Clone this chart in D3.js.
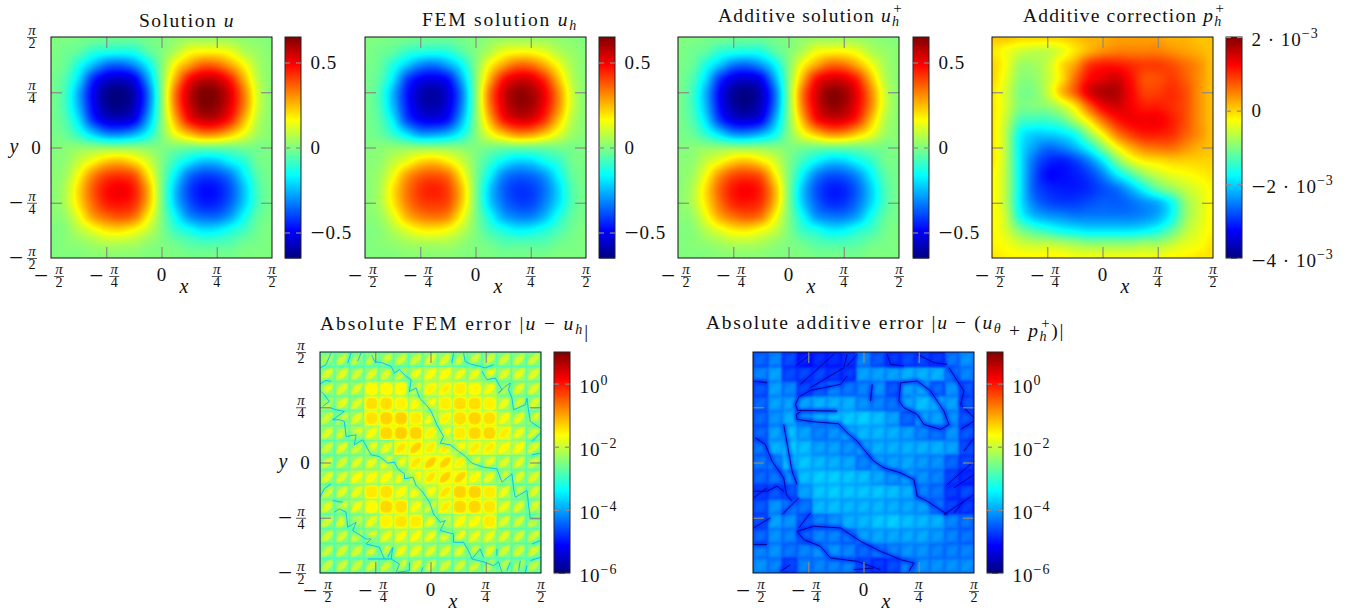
<!DOCTYPE html>
<html><head><meta charset="utf-8">
<script src="https://cdn.jsdelivr.net/npm/d3@7"></script>
<style>html,body{margin:0;padding:0;background:#fff}svg{display:block}text{font-family:"Liberation Serif",serif;fill:#111}</style>
</head><body><div id="chart"></div>
<script>
const PI = Math.PI;
// ---------- axis data ----------
const axisTicks = [-PI/2, -PI/4, 0, PI/4, PI/2];
const tickSigns = ["−", "−", "", "", ""];
const tickDenominators = [2, 4, 0, 4, 2];
const jetStops = [0, 1/8, 3/8, 5/8, 7/8, 1];
const jetColors = ["#000080", "#0000ff", "#00ffff", "#ffff00", "#ff0000", "#800000"];

// ---------- values: hundredths, nodes top to bottom ----------
const solutionU = [
[0,0,-1,-1,-2,-2,-2,-1,0,2,3,3,3,3,2,1,0],
[0,-2,-4,-10,-12,-13,-12,-5,0,6,14,16,16,13,6,3,1],
[-1,-3,-13,-24,-34,-36,-30,-17,0,17,28,36,35,27,16,5,1],
[-1,-6,-20,-42,-53,-55,-50,-28,0,26,47,55,54,44,25,7,1],
[-1,-8,-27,-49,-62,-65,-58,-36,0,34,55,65,63,52,32,10,1],
[-1,-8,-26,-48,-61,-64,-57,-35,0,33,54,64,62,51,32,10,1],
[-1,-6,-20,-42,-53,-55,-50,-28,0,26,47,55,54,44,25,7,1],
[-1,-3,-11,-22,-31,-32,-27,-16,0,15,25,32,31,24,14,4,1],
[0,1,2,2,2,2,2,1,0,-1,-2,-2,-2,-2,-1,-1,0],
[1,2,9,16,23,25,20,11,0,-10,-18,-24,-23,-17,-11,-2,-1],
[1,4,16,31,40,42,38,20,0,-18,-34,-40,-39,-32,-18,-5,-1],
[1,6,21,37,47,50,45,27,0,-24,-40,-47,-46,-38,-23,-7,-1],
[1,6,20,35,45,47,43,26,0,-23,-38,-45,-44,-36,-22,-7,-1],
[1,3,14,28,35,38,34,18,0,-16,-30,-35,-35,-28,-15,-4,-1],
[0,1,7,13,19,20,16,9,0,-9,-14,-19,-18,-13,-8,-2,0],
[0,1,2,4,6,6,5,2,0,-2,-5,-6,-6,-5,-2,-1,0],
[0,0,0,1,1,1,1,0,0,0,-1,-1,-1,-1,0,0,0]];
const solutionFEM = [
[0,0,-1,-1,-2,-2,-2,-1,0,2,3,3,3,3,2,1,0],
[0,-2,-4,-9,-11,-12,-11,-5,0,6,13,15,15,12,6,3,1],
[-1,-3,-12,-22,-31,-33,-27,-16,0,16,27,35,34,26,15,5,1],
[-1,-5,-18,-39,-49,-51,-46,-26,0,25,45,53,52,42,24,7,1],
[-1,-7,-25,-45,-57,-60,-53,-33,0,33,53,62,60,50,31,10,1],
[-1,-7,-24,-44,-56,-59,-52,-32,0,32,52,61,60,49,31,10,1],
[-1,-5,-18,-39,-49,-51,-46,-26,0,25,45,53,52,42,24,7,1],
[-1,-3,-10,-20,-29,-29,-25,-15,0,14,24,31,30,23,13,4,1],
[0,1,2,2,2,2,2,1,0,-1,-2,-2,-2,-2,-1,-1,0],
[1,2,8,14,21,23,18,10,0,-9,-17,-22,-21,-15,-10,-2,-1],
[1,4,14,28,36,38,34,18,0,-16,-31,-36,-35,-29,-16,-4,-1],
[1,5,19,33,42,45,40,24,0,-22,-36,-42,-41,-34,-21,-6,-1],
[1,5,18,32,40,42,39,23,0,-21,-34,-40,-40,-32,-20,-6,-1],
[1,3,12,25,32,34,31,16,0,-14,-27,-32,-32,-25,-13,-4,-1],
[0,1,6,12,17,18,15,8,0,-8,-13,-17,-16,-12,-7,-2,0],
[0,1,2,4,5,5,5,2,0,-2,-5,-5,-5,-5,-2,-1,0],
[0,0,0,1,1,1,1,0,0,0,-1,-1,-1,-1,0,0,0]];
const solutionAdditive = [
[0,0,-1,-1,-2,-2,-2,-1,0,2,3,3,3,3,2,1,0],
[0,-2,-4,-10,-12,-13,-12,-5,0,6,14,16,16,13,6,3,1],
[-1,-3,-13,-23,-33,-35,-29,-17,0,16,27,35,34,26,15,5,1],
[-1,-6,-20,-41,-52,-54,-49,-27,0,25,46,53,52,43,24,7,1],
[-1,-8,-26,-48,-61,-64,-57,-35,0,33,53,63,61,50,31,10,1],
[-1,-8,-25,-47,-60,-63,-56,-34,0,32,52,62,60,49,31,10,1],
[-1,-6,-20,-41,-52,-54,-49,-27,0,25,46,53,52,43,24,7,1],
[-1,-3,-11,-21,-30,-31,-26,-16,0,14,24,31,30,23,14,4,1],
[0,1,2,2,2,2,2,1,0,-1,-2,-2,-2,-2,-1,-1,0],
[1,2,9,15,22,24,19,11,0,-9,-17,-23,-22,-16,-10,-2,-1],
[1,4,15,30,39,41,37,19,0,-17,-32,-38,-37,-30,-17,-5,-1],
[1,6,20,36,46,49,44,26,0,-23,-38,-45,-44,-36,-22,-7,-1],
[1,6,19,34,44,46,42,25,0,-22,-36,-43,-42,-34,-21,-7,-1],
[1,3,14,27,34,37,33,17,0,-15,-29,-33,-33,-27,-14,-4,-1],
[0,1,7,13,18,19,15,9,0,-9,-13,-18,-17,-12,-8,-2,0],
[0,1,2,4,6,6,5,2,0,-2,-5,-6,-6,-5,-2,-1,0],
[0,0,0,1,1,1,1,0,0,0,-1,-1,-1,-1,0,0,0]];
// thousandths
const correctionP = [
[.1,.1,0,0,0,0,.1,.2,.2,.3,.3,.3,.3,.2,.2,.1,.1],
[-.1,-.3,-.5,-.6,-.6,-.4,-.1,.2,.4,.5,.5,.5,.5,.4,.3,.2,.1],
[0,-.3,-.8,-.8,-.6,-.1,.3,.9,1.1,1.1,1,.9,.9,.8,.6,.4,.1],
[0,-.4,-.9,-.9,-.6,-.1,.6,1.2,1.4,1.5,1.2,.8,.8,.9,.7,.4,.1],
[-.1,-.5,-1,-1,-.6,.1,.7,1.4,1.7,1.7,1.3,.9,.9,1,.8,.4,.1],
[-.1,-.5,-1,-1,-.9,-.6,-.1,.7,1.3,1.5,1.3,1.1,1.1,1,.8,.4,.1],
[-.1,-.6,-1.3,-1.4,-1.4,-1.2,-.7,-.1,.6,1.1,1.3,1.3,1.3,1.1,.8,.4,.1],
[-.1,-.7,-1.7,-2,-2,-1.9,-1.6,-.9,-.2,.5,.9,1.1,1.1,1,.7,.4,.1],
[-.1,-.7,-1.8,-2.3,-2.6,-2.5,-2.2,-1.7,-1,-.3,.2,.5,.6,.6,.4,.2,.1],
[-.1,-.7,-1.8,-2.6,-3,-3.1,-2.9,-2.5,-1.9,-1.1,-.5,-.2,-.1,0,0,0,0],
[-.2,-.7,-1.8,-2.7,-3.2,-3.2,-3.1,-2.9,-2.5,-1.9,-1.4,-.9,-.6,-.4,-.3,-.2,-.1],
[-.2,-.7,-1.8,-2.7,-3,-3.1,-3.1,-3,-2.8,-2.6,-2.2,-1.7,-1.2,-.9,-.6,-.4,-.2],
[-.2,-.7,-1.8,-2.5,-2.8,-2.9,-2.9,-2.8,-2.7,-2.7,-2.6,-2.4,-2.2,-1.7,-.9,-.5,-.2],
[-.2,-.6,-1.6,-2.1,-2.3,-2.4,-2.5,-2.5,-2.5,-2.5,-2.5,-2.4,-2.2,-1.7,-.9,-.5,-.2],
[-.2,-.5,-1,-1.3,-1.5,-1.7,-1.8,-1.9,-1.9,-1.9,-1.9,-1.8,-1.6,-1.2,-.7,-.4,-.2],
[-.2,-.3,-.5,-.6,-.6,-.7,-.8,-.9,-.9,-.9,-.9,-.8,-.8,-.6,-.4,-.3,-.1],
[-.1,-.2,-.2,-.2,-.2,-.2,-.3,-.3,-.3,-.3,-.3,-.3,-.3,-.2,-.2,-.1,-.1]];
// log10 of the error in each of the 15 x 15 mesh cells
const errorFEM = [
[-1.95,-2,-2,-1.95,-1.95,-1.95,-1.95,-1.85,-1.85,-1.95,-1.95,-1.95,-1.95,-1.95,-1.95],
[-1.85,-1.85,-1.95,-1.85,-1.85,-1.85,-1.75,-1.65,-1.6,-1.75,-1.75,-1.75,-1.85,-1.8,-1.85],
[-1.85,-1.85,-1.85,-1.6,-1.6,-1.6,-1.75,-1.55,-1.52,-1.52,-1.6,-1.65,-1.85,-1.85,-1.85],
[-1.85,-1.8,-1.85,-1.42,-1.4,-1.55,-1.6,-1.65,-1.52,-1.4,-1.4,-1.55,-1.75,-1.8,-1.85],
[-1.85,-1.8,-1.8,-1.42,-1.32,-1.3,-1.5,-1.65,-1.55,-1.4,-1.32,-1.4,-1.65,-1.8,-1.85],
[-1.85,-1.85,-1.75,-1.65,-1.35,-1.3,-1.32,-1.55,-1.65,-1.5,-1.35,-1.35,-1.5,-1.75,-1.85],
[-1.95,-1.85,-1.85,-1.75,-1.75,-1.45,-1.3,-1.5,-1.5,-1.6,-1.5,-1.5,-1.6,-1.65,-1.85],
[-1.95,-1.95,-1.85,-1.75,-1.65,-1.75,-1.45,-1.3,-1.32,-1.55,-1.75,-1.75,-1.85,-1.85,-1.95],
[-1.85,-1.85,-1.65,-1.6,-1.6,-1.65,-1.55,-1.45,-1.3,-1.32,-1.6,-1.75,-1.75,-1.85,-1.85],
[-1.85,-1.85,-1.75,-1.48,-1.42,-1.6,-1.65,-1.65,-1.45,-1.32,-1.32,-1.5,-1.75,-1.85,-1.85],
[-1.85,-1.85,-1.75,-1.6,-1.35,-1.4,-1.65,-1.75,-1.5,-1.35,-1.35,-1.45,-1.75,-1.85,-1.85],
[-1.95,-1.85,-1.85,-1.75,-1.55,-1.45,-1.5,-1.75,-1.75,-1.6,-1.6,-1.5,-1.85,-1.95,-1.95],
[-1.95,-1.95,-1.95,-1.85,-1.75,-1.65,-1.65,-1.75,-1.85,-1.75,-1.75,-1.75,-1.85,-1.95,-1.95],
[-2,-1.95,-1.95,-1.95,-1.85,-1.75,-1.75,-1.85,-1.85,-1.85,-1.85,-1.85,-1.95,-1.95,-1.95],
[-2.05,-2,-2,-1.95,-1.95,-1.85,-1.85,-1.95,-1.95,-1.95,-1.95,-1.95,-2,-2,-2.05]];
const errorFEMShapes = ["ddddddddddddddd","ddddddddddddddd","dddrrrdddrrdddd","dddrrrddrrrrddd","dddrrrrddrrrddd","ddddrrrddrrrddd","ddddddddddddddd","ddddddddddddddd","ddddddddddddddd","dddrrddddrrrddd","dddrrrdddrrrddd","ddddrrrddddrddd","ddddddddddddddd","ddddddddddddddd","ddddddddddddddd"];
const errorAdditive = [
[-4.4,-4.2,-4.6,-4.9,-4.8,-4.8,-4.7,-4.2,-4.5,-4.7,-4.6,-4.6,-4.7,-4.3,-4.1],
[-4.2,-4,-4.6,-4.6,-4.6,-4.7,-4.7,-4,-4,-4,-3.9,-3.9,-3.9,-4.3,-4.2],
[-4.5,-4,-4.2,-4.6,-4.4,-4.2,-4.3,-4.2,-4.1,-4.5,-4,-4,-4.4,-4.1,-4.5],
[-4.4,-4,-4,-4,-3.9,-3.9,-3.9,-4.1,-4.2,-4.3,-4,-3.8,-3.9,-4,-4.5],
[-4.4,-4.1,-3.9,-4.1,-3.9,-3.8,-3.75,-3.7,-3.8,-4,-4.4,-4,-4,-4.1,-4.5],
[-4.4,-4,-3.8,-4,-4.2,-4.1,-3.95,-3.85,-3.85,-3.9,-4,-4.2,-4.3,-4.1,-4.5],
[-4.3,-3.9,-3.7,-3.8,-4,-4,-4.1,-4,-3.9,-3.9,-3.9,-3.9,-3.9,-4,-4.5],
[-4.3,-4.2,-3.8,-3.75,-3.85,-3.9,-3.95,-4.2,-4,-4,-3.95,-4.05,-4.1,-4.4,-4.6],
[-4.4,-4.3,-4.1,-3.8,-3.7,-3.7,-3.75,-3.8,-3.95,-4.1,-4,-4.1,-4.2,-4.6,-4.8],
[-4.6,-4.5,-4.5,-4,-3.75,-3.7,-3.75,-3.75,-3.75,-3.8,-3.9,-4.2,-4.3,-4.7,-4.6],
[-4.5,-4.1,-4.2,-4.3,-3.85,-3.8,-3.85,-3.85,-3.85,-3.9,-3.95,-4,-4.3,-4.6,-4.7],
[-4.5,-4,-4.1,-4.4,-4.2,-4.1,-3.9,-3.85,-3.75,-3.7,-3.8,-3.85,-3.9,-4.2,-4.3],
[-4.4,-4.1,-4.2,-4.4,-4.2,-4.2,-4.3,-4,-3.95,-3.95,-3.95,-3.95,-4.05,-4.2,-4.3],
[-4.2,-4.1,-4.3,-4.2,-4.1,-4.1,-4.2,-4.4,-4.3,-4.2,-4.1,-4.1,-4.2,-4.2,-4.2],
[-4.1,-4.2,-4.6,-4.2,-4.2,-4.2,-4.2,-4.5,-4.7,-4.6,-4.2,-4.1,-4.1,-4.1,-4.1]];
// near-zero error curves, position along the axes on a 0..662 span from -pi/2 (left, top) to pi/2
const femZeroCurves = [
[[155,10],[165,30],[183,31],[213,43],[223,63],[238,53],[258,73],[273,83],[268,118],[288,108],[298,138],[318,158],[333,178],[350,218],[370,253],[360,273],[390,278],[415,298],[430,308],[455,333],[490,345],[530,350],[545,390],[575,365],[580,410],[585,435],[620,415],[625,460],[630,500],[660,500]],
[[33,168],[48,173],[73,178],[38,203],[58,203],[73,208],[78,253],[108,248],[103,278],[128,263],[153,308],[178,313],[203,333],[223,330],[233,350],[253,365],[253,380],[278,375],[288,400],[308,420],[328,450],[340,485],[360,510],[375,505],[360,535],[400,545],[400,570],[430,570],[445,595],[455,620],[495,630],[520,640],[535,628],[545,660]],
[[455,620],[480,590],[490,615]],
[[395,33],[400,3]],
[[430,3],[435,28],[450,36],[480,43],[495,48],[520,38]],
[[485,58],[500,83],[525,78],[545,113],[535,123],[555,103],[570,93],[565,113],[575,138],[580,173],[615,158],[620,138],[625,178],[630,208],[660,228]],
[[660,243],[635,268]],[[660,303],[635,308]],
[[0,48],[18,38],[33,3]],[[83,33],[93,3]],[[113,28],[123,3]],[[0,96],[18,85],[33,88]],
[[8,163],[28,148],[13,128],[3,118]],
[[0,435],[13,410],[33,395]],[[38,445],[68,450]],
[[43,480],[58,470],[78,480],[83,525],[108,510],[98,535],[138,560],[153,560],[138,575],[178,585],[193,620],[213,620],[238,635],[228,660]],
[[143,620],[193,620]],[[203,615],[218,585],[213,620]],[[268,630],[268,655],[233,660]],[[308,645],[303,660]],
[[570,630],[560,655]],[[600,625],[595,655]],[[660,565],[635,575]],[[660,615],[630,625]],[[620,640],[615,660]],[[530,590],[530,610]]];
const additiveZeroCurves = [
[[282,72],[262,97],[172,115],[137,135],[127,157],[134,175],[252,177]],
[[142,179],[130,187],[132,202],[182,209],[257,215],[282,242],[312,267],[332,292],[362,327],[392,347],[442,362],[482,382],[492,432],[522,447],[552,467],[582,487]],
[[442,92],[492,87],[532,117],[572,177],[587,217],[562,232],[512,217],[492,187],[452,167],[437,147],[442,92]],
[[7,257],[37,277],[57,327],[92,377],[100,427],[117,447]],
[[92,217],[117,357],[132,397]],
[[2,417],[42,417],[72,402],[92,417]],[[2,437],[42,407]],[[87,487],[137,437]],
[[132,537],[182,522],[262,527],[322,567],[382,597],[442,622],[482,632],[467,657]],
[[132,537],[152,562],[202,582],[232,617],[312,627],[382,652]],
[[2,527],[52,497]],[[137,527],[172,482]],
[[127,42],[172,7]],[[142,97],[242,7]],[[172,107],[272,47],[282,7]],[[282,42],[312,7]],
[[357,97],[352,147]],
[[587,47],[632,117],[622,157],[662,197]],[[662,207],[622,232]],[[662,257],[632,297]],[[662,327],[582,397]],[[662,427],[572,487]],[[662,367],[602,407]],[[632,447],[602,482]],
[[402,7],[412,37],[452,42]],[[492,7],[542,32],[582,37]],
[[82,657],[112,637]],[[2,577],[42,577]],[[302,652],[362,647]],[[2,87],[42,92]]];

// ---------- texts ----------
const titleSolution = [["Solution ","r"],["u","i"]];
const titleFEM = [["FEM solution ","r"],["u","i"],["h","sub"]];
const titleAdditive = [["Additive solution ","r"],["u","i"],["h","sub"],["+","sup"]];
const titleCorrection = [["Additive correction ","r"],["p","i"],["h","sub"],["+","sup"]];
const titleErrFEM = [["Absolute FEM error |","r"],["u","i"],[" − ","r"],["u","i"],["h","sub0"],["|","r"]];
const titleErrAdd = [["Absolute additive error |","r"],["u","i"],[" − (","r"],["u","i"],["θ","sub0"],[" + ","r"],["p","i"],["h","sub"],["+","sup"],[")|","r"]];
const solutionBarTicks = [-0.5, 0, 0.5];
const solutionBarLabels = [[["−","m"],["0.5","r"]],[["0","r"]],[["0.5","r"]]];
const correctionBarTicks = [-4e-3, -2e-3, 0, 2e-3];
const correctionBarLabels = [[["−","m"],["4 · 10","r"],["−3","p"]],[["−","m"],["2 · 10","r"],["−3","p"]],[["0","r"]],[["2 · 10","r"],["−3","p"]]];
const errorBarTicks = [-6, -4, -2, 0];
const errorBarLabels = [[["10","r"],["−6","p"]],[["10","r"],["−4","p"]],[["10","r"],["−2","p"]],[["10","r"],["0","p"]]];

// ---------- layout ----------
const W = 1363, H = 610, SIDE = 221, BAR = 16;
const panels = [
 {kind:"smooth", m:solutionU, k:0.01, dom:[-.65,.65], px:51, py:37, bx:285, t:titleSolution, tx:139, tw:96, tb:27, yAxis:true, ticks:solutionBarTicks, labels:solutionBarLabels},
 {kind:"smooth", m:solutionFEM, k:0.01, dom:[-.65,.65], px:365, py:37, bx:599, t:titleFEM, tx:422, tw:156, tb:26, ticks:solutionBarTicks, labels:solutionBarLabels},
 {kind:"smooth", m:solutionAdditive, k:0.01, dom:[-.65,.65], px:678, py:37, bx:913, t:titleAdditive, tx:718, tw:192, tb:21.5, ticks:solutionBarTicks, labels:solutionBarLabels},
 {kind:"smooth", m:correctionP, k:0.001, dom:[-4e-3,2e-3], px:992, py:37, bx:1226, t:titleCorrection, tx:1023, tw:209, tb:21.5, ticks:correctionBarTicks, labels:correctionBarLabels},
 {kind:"cells", m:errorFEM, shapes:errorFEMShapes, dom:[-6,1], px:320, py:352, bx:554, t:titleErrFEM, tx:320, tw:270, tb:330, yAxis:true, ticks:errorBarTicks, labels:errorBarLabels,
  curves:femZeroCurves, curveLevel:-3.9, haloLevel:-2.9, curveW:0.85, haloW:6, haloOp:.45, dropA:.5, dropB:.42, blur:.65},
 {kind:"cells", m:errorAdditive, dom:[-6,1], px:753, py:352, bx:987, t:titleErrAdd, tx:706, tw:366, tb:329, ticks:errorBarTicks, labels:errorBarLabels,
  curves:additiveZeroCurves, curveLevel:-5.9, haloLevel:-4.9, curveW:0.95, haloW:5, haloOp:.6, dropA:.08, dropB:.24, blur:1.2, flat:true},
];

const svg = d3.select("#chart").append("svg").attr("width",W).attr("height",H).attr("viewBox",[0,0,W,H]);
const defs = svg.append("defs");
defs.append("filter").attr("id","soft").attr("x","-5%").attr("y","-5%").attr("width","110%").attr("height","110%")
  .append("feGaussianBlur").attr("stdDeviation",0.35);
defs.append("filter").attr("id","softer").attr("x","-10%").attr("y","-10%").attr("width","120%").attr("height","120%")
  .append("feGaussianBlur").attr("stdDeviation",1.6);

const smooth = (a,b,x)=>{const t=Math.max(0,Math.min(1,(x-a)/(b-a)));return t*t*(3-2*t);};
function catmull(p0,p1,p2,p3,t){return 0.5*((2*p1)+(-p0+p2)*t+(2*p0-5*p1+4*p2-p3)*t*t+(-p0+3*p1-3*p2+p3)*t*t*t);}
function sample(m,fx,fy){
  const n=m.length-1, cl=i=>Math.max(0,Math.min(n,i));
  const ix=Math.floor(fx), iy=Math.floor(fy), tx=fx-ix, ty=fy-iy, col=[];
  for(let j=-1;j<=2;j++){const r=m[cl(iy+j)];col.push(catmull(r[cl(ix-1)],r[cl(ix)],r[cl(ix+1)],r[cl(ix+2)],tx));}
  return catmull(col[0],col[1],col[2],col[3],ty);
}
function rasterise(p,color,xS,yS){
  const pad=4, n=SIDE+2*pad, c=document.createElement("canvas"); c.width=n;c.height=n;
  const ctx=c.getContext("2d"), img=ctx.createImageData(n,n);
  const cnt=p.kind==="smooth"?p.m.length-1:p.m.length;
  const gx=d3.scaleLinear(xS.domain(),[0,cnt]).clamp(true), gy=d3.scaleLinear(yS.domain(),[0,cnt]).clamp(true);
  for(let j=0;j<n;j++)for(let i=0;i<n;i++){
    const fx=gx(xS.invert(p.px+i-pad+.5)), fy=gy(yS.invert(p.py+j-pad+.5));
    let v;
    if(p.kind==="smooth") v=sample(p.m,fx,fy)*p.k;
    else{
      const ci=Math.min(cnt-1,Math.floor(fx)), cj=Math.min(cnt-1,Math.floor(fy));
      const a=2*(fx-ci)-1, b=2*(fy-cj)-1, peak=p.m[cj][ci];
      const round=p.shapes&&p.shapes[cj][ci]==="r";
      let s;
      if(round) s=1-smooth(.5,1.1,a*a+b*b);
      else{const al=(a-b)/Math.SQRT2, ac=(a+b)/Math.SQRT2; s=1-smooth(.2,1,(al/1.25)*(al/1.25)+(ac/.6)*(ac/.6));}
      const edge=Math.pow(Math.max(Math.abs(a),Math.abs(b)),6);
      const scale=p.flat?1:.6+.4*smooth(-1.35,-1.9,peak);
      v=peak-scale*(p.dropA*(1-s)+p.dropB*edge);
    }
    const rgb=d3.rgb(color(v)), o=4*(j*n+i);
    img.data[o]=rgb.r;img.data[o+1]=rgb.g;img.data[o+2]=rgb.b;img.data[o+3]=255;
  }
  ctx.putImageData(img,0,0);
  const out=document.createElement("canvas");out.width=SIDE;out.height=SIDE;
  const oc=out.getContext("2d");oc.filter=`blur(${p.blur||.5}px)`;oc.drawImage(c,-pad,-pad);
  return out.toDataURL();
}
function writeRich(t,segs){
  segs.forEach(([s,kind],i)=>{
    const ts=t.append("tspan").text(s);
    const prev=i?segs[i-1][1]:null;
    let dy=0;
    if(prev==="sub"||prev==="sub0") dy=kind==="sup"?-13:4;
    if(prev==="sup") dy=9;
    if(prev==="p") dy=8;
    if(kind==="sub"||kind==="sub0"){dy=4;ts.attr("font-size",14).attr("font-style","italic");}
    if(kind==="sup"){ts.attr("font-size",15).attr("dx",-7);if(prev!=="sub")dy=-9;}
    if(kind==="p"){ts.attr("font-size",14);dy=-8;}
    if(kind==="m"){ts.attr("font-size",25);dy=1.5;}
    if(prev==="m")dy=-1.5;
    if(kind==="i")ts.attr("font-style","italic");
    if(dy)ts.attr("dy",dy);
  });
}
function frac(g,den){
  g.append("text").attr("text-anchor","middle").attr("font-style","italic").attr("font-size",15).attr("y",0).text("π");
  g.append("line").attr("x1",-5).attr("x2",5).attr("y1",2.5).attr("y2",2.5).attr("stroke","#111").attr("stroke-width",.7);
  g.append("text").attr("text-anchor","middle").attr("font-size",14).attr("y",13).text(den);
}

panels.forEach((p,pi)=>{
  const x0=p.px,x1=p.px+SIDE,y0=p.py,y1=p.py+SIDE;
  const xS=d3.scaleLinear([-PI/2,PI/2],[x0,x1]), yS=d3.scaleLinear([-PI/2,PI/2],[y1,y0]);
  const barS=d3.scaleLinear(p.dom,[y1,y0]);
  const color=d3.scaleLinear(jetStops.map(f=>p.dom[0]+f*(p.dom[1]-p.dom[0])),jetColors).clamp(true);
  const g=svg.append("g").attr("class","panel");
  const gridY={domain:()=>[-PI/2,PI/2],invert:py=>d3.scaleLinear([y0,y1],[-PI/2,PI/2])(py)};
  g.append("image").attr("x",x0).attr("y",y0).attr("width",SIDE).attr("height",SIDE).attr("href",rasterise(p,color,xS,gridY));
  if(p.curves){
    const cid="clip"+pi;
    defs.append("clipPath").attr("id",cid).append("rect").attr("x",x0).attr("y",y0).attr("width",SIDE).attr("height",SIDE);
    const cx=d3.scaleLinear([0,662],[x0,x1]), cy=d3.scaleLinear([0,662],[y0,y1]);
    const line=d3.line().x(d=>cx(d[0])).y(d=>cy(d[1]));
    const cg=g.append("g").attr("clip-path",`url(#${cid})`);
    cg.append("g").attr("filter","url(#softer)").selectAll("path").data(p.curves).join("path").attr("d",line).attr("fill","none")
      .attr("stroke",color(p.haloLevel)).attr("stroke-width",p.haloW).attr("stroke-opacity",p.haloOp);
    cg.append("g").attr("filter","url(#soft)").selectAll("path").data(p.curves).join("path").attr("d",line).attr("fill","none")
      .attr("stroke",color(p.curveLevel)).attr("stroke-width",p.curveW).attr("stroke-linejoin","round");
  }
  // inner ticks on all four sides
  const inner=axisTicks.slice(1,4), tl=11;
  const style=s=>{s.select(".domain").remove();s.selectAll("line").attr("stroke","#8a8a8a").attr("stroke-width",1.2);};
  g.append("g").attr("transform",`translate(0,${y1})`).call(d3.axisBottom(xS).tickValues(inner).tickSize(-tl).tickFormat("")).call(style);
  g.append("g").attr("transform",`translate(0,${y0})`).call(d3.axisTop(xS).tickValues(inner).tickSize(-tl).tickFormat("")).call(style);
  g.append("g").attr("transform",`translate(${x0},0)`).call(d3.axisLeft(yS).tickValues(inner).tickSize(-tl).tickFormat("")).call(style);
  g.append("g").attr("transform",`translate(${x1},0)`).call(d3.axisRight(yS).tickValues(inner).tickSize(-tl).tickFormat("")).call(style);
  g.append("rect").attr("x",x0).attr("y",y0).attr("width",SIDE).attr("height",SIDE).attr("fill","none").attr("stroke","#111").attr("stroke-width",1);
  // x tick labels
  axisTicks.forEach((t,i)=>{
    const tick=g.append("g").attr("transform",`translate(${xS(t)},0)`);
    if(tickDenominators[i]===0){tick.append("text").attr("text-anchor","middle").attr("y",y1+23).attr("font-size",19).text("0");return;}
    const neg=tickSigns[i]!=="";
    frac(tick.append("g").attr("transform",`translate(${neg?8:0},${y1+16})`),tickDenominators[i]);
    if(neg)tick.append("text").attr("text-anchor","middle").attr("x",-10).attr("y",y1+25.5).attr("font-size",25).text("−");
  });
  g.append("text").attr("x",x0+133).attr("y",y1+34.5).attr("text-anchor","middle").attr("font-style","italic").attr("font-size",20).text("x");
  // y tick labels
  if(p.yAxis){
    axisTicks.forEach((t,i)=>{
      const tick=g.append("g").attr("transform",`translate(0,${yS(t)})`);
      if(tickDenominators[i]===0){tick.append("text").attr("text-anchor","middle").attr("x",x0-15).attr("y",6.5).attr("font-size",19).text("0");return;}
      frac(tick.append("g").attr("transform",`translate(${x0-19},-2)`),tickDenominators[i]);
      if(tickSigns[i])tick.append("text").attr("text-anchor","middle").attr("x",x0-35).attr("y",8).attr("font-size",25).text("−");
    });
    g.append("text").attr("x",x0-37).attr("y",(y0+y1)/2+5).attr("text-anchor","middle").attr("font-style","italic").attr("font-size",20).text("y");
  }
  // colour bar
  const rows=d3.range(SIDE);
  g.append("g").selectAll("rect").data(rows).join("rect").attr("x",p.bx).attr("width",BAR).attr("y",d=>y0+d).attr("height",1.5)
    .attr("fill",d=>color(barS.invert(y0+d+.5)));
  g.append("rect").attr("x",p.bx).attr("y",y0).attr("width",BAR).attr("height",SIDE).attr("fill","none").attr("stroke","#222").attr("stroke-width",1);
  g.append("g").attr("transform",`translate(${p.bx+BAR},0)`).call(d3.axisRight(barS).tickValues(p.ticks).tickSize(-5).tickFormat("")).call(style);
  g.append("g").attr("transform",`translate(${p.bx},0)`).call(d3.axisLeft(barS).tickValues(p.ticks).tickSize(-5).tickFormat("")).call(style);
  p.ticks.forEach((t,i)=>{
    const hasSup=p.labels[i].some(s=>s[1]==="p");
    const lab=g.append("text").attr("x",p.bx+BAR+9.5).attr("y",barS(t)+(hasSup?9:6.5)).attr("font-size",19).style("letter-spacing","1px");
    writeRich(lab,p.labels[i]);
  });
  // title
  const title=g.append("text").attr("x",p.tx).attr("y",p.tb).attr("font-size",19.5);
  writeRich(title,p.t);
  const n=title.text().length, w=title.node().getComputedTextLength();
  title.style("letter-spacing",((p.tw-w)/n).toFixed(3)+"px");
});
</script></body></html>
